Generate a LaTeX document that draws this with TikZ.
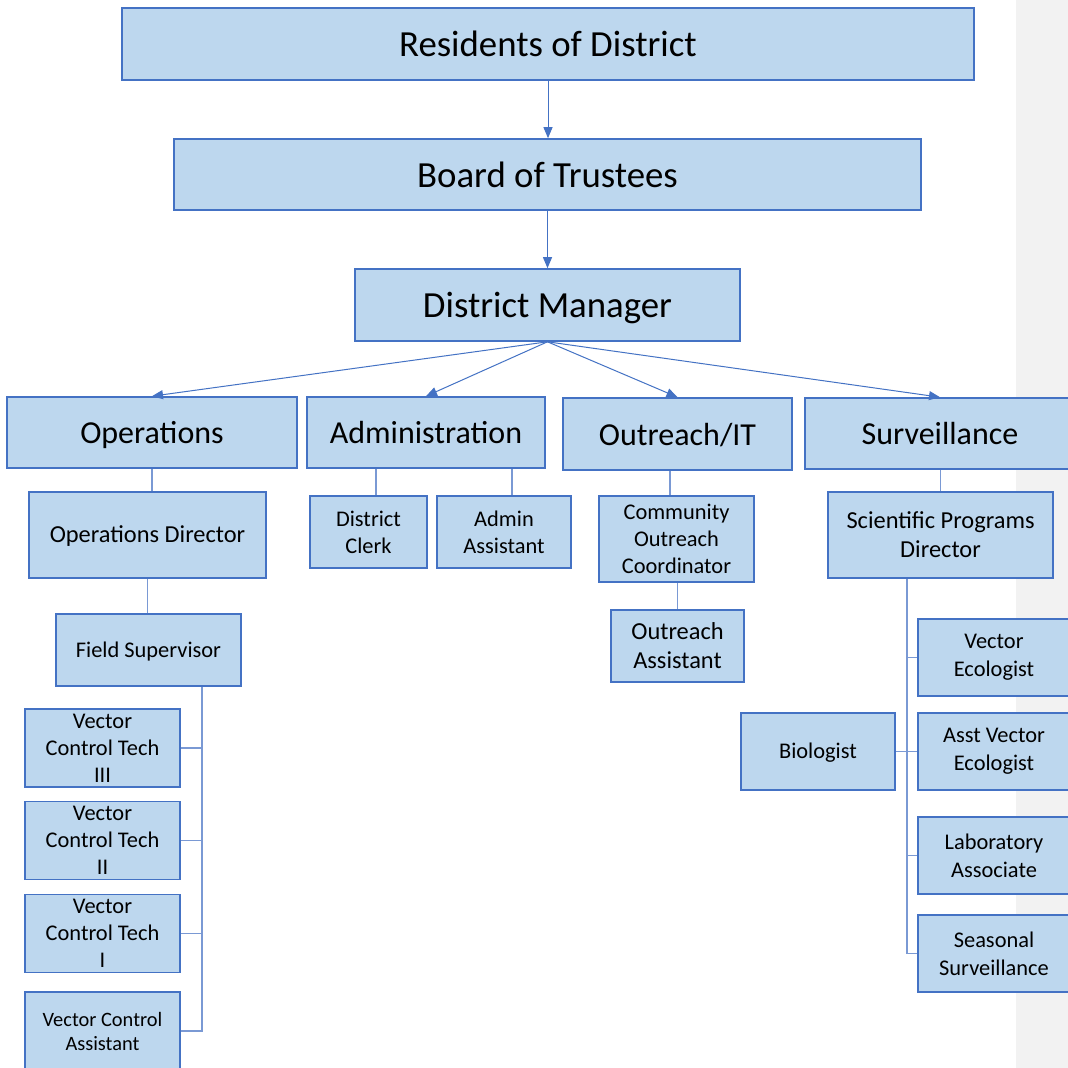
\documentclass[tikz,border=0pt]{standalone}
\usepackage{fontspec}
\setmainfont{Carlito}
\usepackage{xcolor}
\usepackage{tikz}
\usetikzlibrary{arrows.meta, positioning}
\definecolor{unitfill}{RGB}{189,215,238}
\definecolor{unitline}{RGB}{68,114,196}
\definecolor{linkcolor}{RGB}{122,153,212}
\definecolor{pagegray}{RGB}{242,242,242}

\begin{document}
\begin{tikzpicture}[
    x=0.5pt, y=-0.5pt,
    >={Triangle[length=5.5pt, width=4.5pt]},
    unit/.style={draw=unitline, fill=unitfill, line width=0.8pt, inner sep=0pt, align=center, text=black},
    top/.style={unit, font=\fontsize{18.4}{22}\selectfont, minimum height=36pt, text height=12.9pt, text depth=0pt},
    head/.style={unit, font=\fontsize{16}{19}\selectfont, minimum height=35.5pt, text height=11.2pt, text depth=0pt},
    post/.style={unit, font=\fontsize{11.2}{13.5}\selectfont, minimum height=38.5pt},
    bigpost/.style={unit, font=\fontsize{12.2}{14.5}\selectfont, minimum height=43pt},
    oneline/.style={text height=0.7em, text depth=0pt},
    report/.style={->, draw=unitline, line width=0.5pt},
    link/.style={draw=linkcolor, line width=0.6pt},
]
    \useasboundingbox (0,0) rectangle (1068,1068);
    \clip (0,0) rectangle (1068,1068);
    \fill[white] (0,0) rectangle (1068,1068);
    \fill[pagegray] (1016,0) rectangle (1068,1068);

    % top of the chart
    \node[top, minimum width=426pt] (res) at (548,44) {Residents of District};
    \node[top, minimum width=373.5pt, minimum height=35.5pt] (board) at (547.5,174.5) {Board of Trustees};
    \node[top, minimum width=192.5pt] (dm) at (547.5,305) {District Manager};

    % divisions
    \node[head, minimum width=145pt] (ops) at (152,432.5) {Operations};
    \node[head, minimum width=119pt] (adm) at (426,432.5) {Administration};
    \node[head, minimum width=114.5pt, minimum height=36pt] (out) at (677.5,434) {Outreach/IT};
    \node[head, minimum width=135pt] (surv) at (940,433.5) {Surveillance};

    % operations
    \node[bigpost, oneline, minimum width=118.5pt] (opdir) at (147.5,535) {Operations Director};
    \node[post, oneline, minimum width=92.5pt, minimum height=36pt] (field) at (148.5,650) {Field Supervisor};
    \node[post, minimum width=77.5pt, minimum height=39pt] (tech3) at (102.5,748) {Vector\\Control Tech\\III};
    \node[post, minimum width=77.5pt, minimum height=39pt] (tech2) at (102.5,840.5) {Vector\\Control Tech\\II};
    \node[post, minimum width=77.5pt, minimum height=39pt] (tech1) at (102.5,933.5) {Vector\\Control Tech\\I};
    \node[post, minimum width=77.5pt, minimum height=39pt, font=\fontsize{10.2}{12}\selectfont] (vca) at (102.5,1031) {Vector Control\\Assistant};

    % administration
    \node[post, minimum width=58.5pt, minimum height=36pt] (clerk) at (368.5,532) {District\\Clerk};
    \node[post, minimum width=67pt, minimum height=36pt] (aa) at (504,532) {Admin\\Assistant};

    % outreach
    \node[post, minimum width=77.5pt, minimum height=43pt] (coc) at (676.5,539) {Community\\Outreach\\Coordinator};
    \node[bigpost, minimum width=66.5pt, minimum height=36pt] (oa) at (677.5,646) {Outreach\\Assistant};

    % surveillance
    \node[bigpost, minimum width=112.5pt] (spd) at (940.5,535) {Scientific Programs\\Director};
    \node[post, minimum width=76pt, font=\fontsize{11.2}{14}\selectfont] (ve) at (994,657.5) {Vector\\Ecologist};
    \node[post, minimum width=76pt, font=\fontsize{11.2}{14}\selectfont] (ave) at (994,751.5) {Asst Vector\\Ecologist};
    \node[post, oneline, minimum width=77pt] (bio) at (818,751.5) {Biologist};
    \node[post, minimum width=76pt, font=\fontsize{11.2}{14}\selectfont] (la) at (994,855.5) {Laboratory\\Associate};
    \node[post, minimum width=76pt, font=\fontsize{11.2}{14}\selectfont] (ss) at (994,953.5) {Seasonal\\Surveillance};

    % arrows
    \draw[report] (res.south) -- (res.south |- board.north);
    \draw[report] (board.south) -- (board.south |- dm.north);
    \draw[report] (dm.south) -- (ops.north);
    \draw[report] (dm.south) -- (adm.north);
    \draw[report] (dm.south) -- (out.north);
    \draw[report] (dm.south) -- (surv.north);

    % plain lines
    \coordinate (fspine) at ([xshift=26.75pt]field.south);
    \coordinate (clerktop) at ([xshift=3.75pt]clerk.north);
    \coordinate (aatop) at ([xshift=4pt]aa.north);
    \coordinate (coctop) at ([xshift=-3.25pt]coc.north);
    \coordinate (sspine) at ([xshift=-16.75pt]spd.south);

    \draw[link] (ops.south) -- (ops.south |- opdir.north);
    \draw[link] (opdir.south) -- (opdir.south |- field.north);
    \draw[link] (fspine) |- (tech3.east);
    \draw[link] (fspine) |- (tech2.east);
    \draw[link] (fspine) |- (tech1.east);
    \draw[link] (fspine) |- (vca.east);

    \draw[link] (clerktop |- adm.south) -- (clerktop);
    \draw[link] (aatop |- adm.south) -- (aatop);
    \draw[link] (coctop |- out.south) -- (coctop);
    \draw[link] (oa.north |- coc.south) -- (oa.north);

    \draw[link] (spd.north |- surv.south) -- (spd.north);
    \draw[link] (sspine) |- (ve.west);
    \draw[link] (sspine) |- (ave.west);
    \draw[link] (sspine) |- (la.west);
    \draw[link] (sspine) |- (ss.west);
    \draw[link] (bio.east) -- (bio.east -| sspine);
\end{tikzpicture}
\end{document}
